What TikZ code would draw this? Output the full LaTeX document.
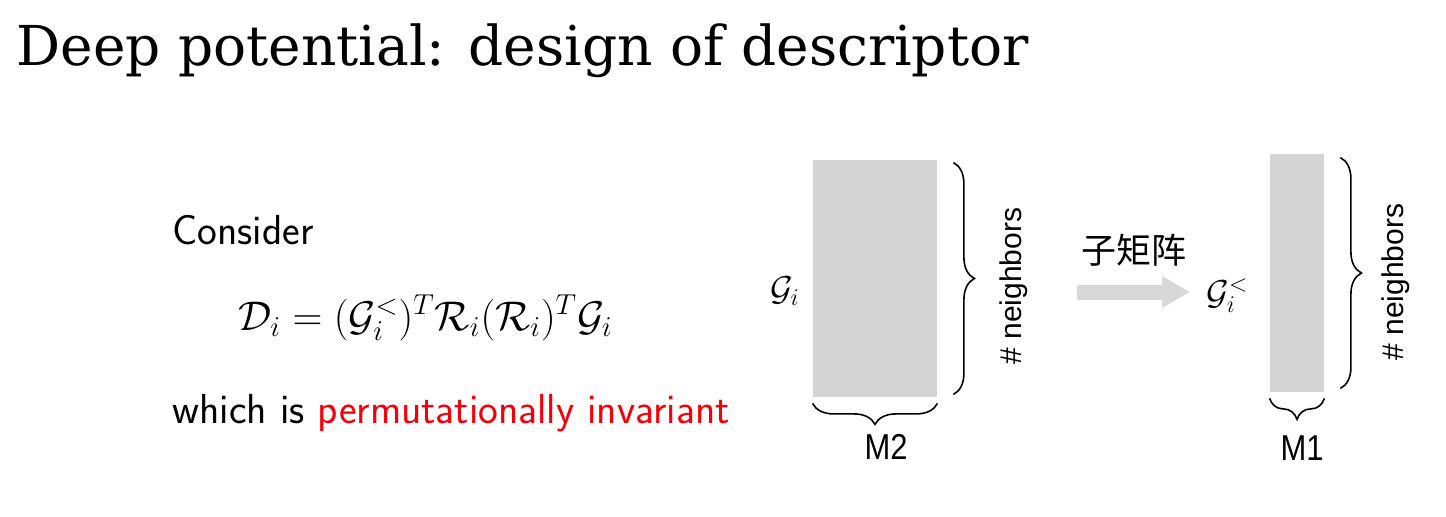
\documentclass[tikz,border=0pt]{standalone}
\usepackage{fontspec}
\usepackage{tikz}
\usetikzlibrary{positioning, calc, arrows.meta, decorations.pathreplacing}
\newfontfamily\titlefont{DejaVu Serif}
\newfontfamily\labelfont{Liberation Sans}
\newfontfamily\dimfont{Liberation Sans}[FakeStretch=0.86]
\newfontfamily\cjk{Noto Sans CJK SC}
\definecolor{matrixgray}{RGB}{212, 212, 212}
\definecolor{arrowgray}{RGB}{216, 216, 216}
\definecolor{invariantred}{RGB}{245, 0, 10}

\tikzset{
    slidetext/.style={inner sep=0pt, anchor=base west, font=\sffamily\fontsize{21}{25}\selectfont},
    matrixbox/.style={fill=matrixgray, inner sep=0pt},
    sizebrace/.style={decorate, decoration={brace, amplitude=10.5pt}, line width=0.8pt},
    sizelabel/.style={inner sep=0pt, font=\labelfont\fontsize{15}{18}\selectfont},
    dimlabel/.style={inner sep=0pt, anchor=base, font=\dimfont\fontsize{18}{21}\selectfont},
    mathlabel/.style={inner sep=0pt, font=\fontsize{17}{20}\selectfont},
}

\begin{document}
\begin{tikzpicture}[x=0.5pt, y=-0.5pt]
    \useasboundingbox (0,0) rectangle (1446,516);
    % title
    \node[inner sep=0pt, anchor=base west, font=\titlefont\fontsize{27.5}{33}\selectfont] (title) at (16,65) {Deep potential: design of descriptor};

    % left column
    \node[slidetext] (consider) at (172,244) {Consider};
    \node[slidetext, font=\fontsize{19.5}{23}\selectfont] (formula) at (238,330) {$\mathcal{D}_i = (\mathcal{G}_i^{<})^T \mathcal{R}_i (\mathcal{R}_i)^T \mathcal{G}_i$};
    \node[slidetext] (invariant) at (172,423) {which is \textcolor{invariantred}{permutationally invariant}};

    % full matrix
    \node[matrixbox, minimum width=62pt, minimum height=118.5pt] (gfull) at (875,278.5) {};
    \node[mathlabel, anchor=east] (gfulllabel) at (800,291) {$\mathcal{G}_i$};
    \draw[sizebrace] ([xshift=8pt, yshift=-1.5pt]gfull.north east) -- ([xshift=8pt, yshift=1.5pt]gfull.south east);
    \draw[sizebrace] ([yshift=-3pt]gfull.south east) -- ([yshift=-3pt]gfull.south west);
    \node[sizelabel, rotate=90] (gfullrows) at (1014,286) {\# neighbors};
    \node[dimlabel] (gfullcols) at (886,459) {M2};

    % sub matrix
    \node[matrixbox, minimum width=27pt, minimum height=119pt] (gsub) at (1297,273) {};
    \node[mathlabel, anchor=west] (gsublabel) at (1206,296) {$\mathcal{G}_i^{<}$};
    \draw[sizebrace] ([xshift=8pt, yshift=-2pt]gsub.north east) -- ([xshift=8pt, yshift=2pt]gsub.south east);
    \draw[sizebrace] ([yshift=-3pt]gsub.south east) -- ([yshift=-3pt]gsub.south west);
    \node[sizelabel, rotate=90] (gsubrows) at (1396,282) {\# neighbors};
    \node[dimlabel] (gsubcols) at (1302,460) {M1};

    % arrow between them
    \coordinate (arrowtail) at (1077,292);
    \draw[arrowgray, line width=7.5pt, shorten >=8pt, -{Triangle[length=14pt, width=15pt]}]
        (arrowtail) -- (arrowtail -| gsublabel.west)
        node[pos=0.44, above=9pt, inner sep=0pt, text=black, font=\cjk\fontsize{17.5}{21}\selectfont] (subname) {子矩阵};
\end{tikzpicture}
\end{document}
